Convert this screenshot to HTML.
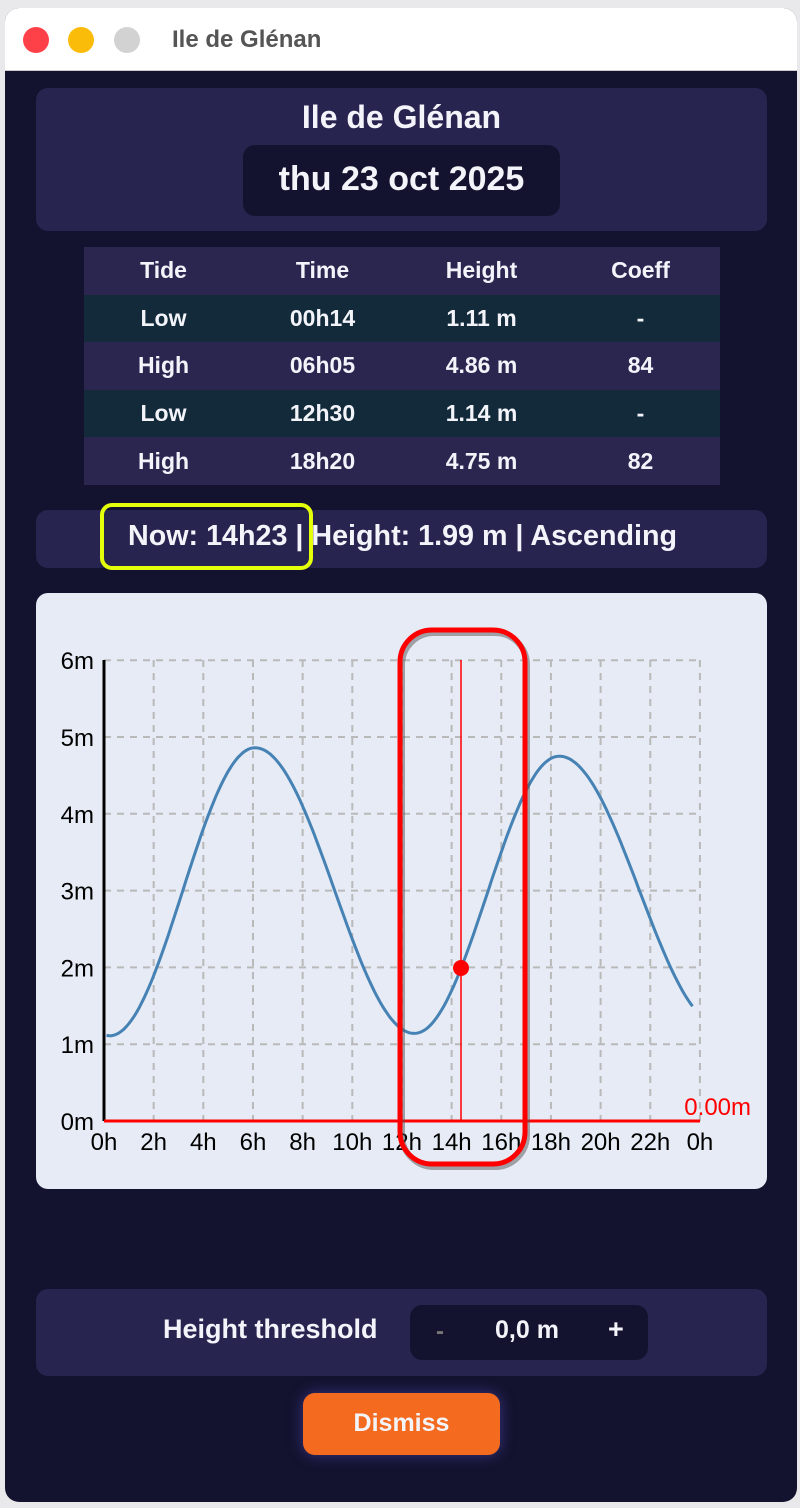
<!DOCTYPE html>
<html><head><meta charset="utf-8"><style>
*{margin:0;padding:0;box-sizing:border-box}
body{width:800px;height:1508px;background:#e9e9ec;position:relative;overflow:hidden;font-family:"Liberation Sans Narrow","Liberation Sans",sans-serif;font-weight:bold;color:#f3f4fa}
.win{position:absolute;left:5px;top:8px;width:792px;height:1494px;background:#13132f;border-radius:14px;overflow:hidden}
.tb{position:absolute;left:0;top:0;width:100%;height:63px;background:#fff;border-bottom:1px solid #ccc}
.dot{position:absolute;top:19px;width:26px;height:26px;border-radius:50%}
.tt{position:absolute;left:167px;top:18px;font-size:24px;color:#555}
.card{position:absolute;background:#282450;border-radius:12px}
.abs{position:absolute}
.c{text-align:center}
table{border-collapse:collapse;width:636px;font-size:23px}
td{height:47.6px;text-align:center;width:25%}
.h td{background:#2a2650}.l td{background:#132a3a}
svg text{font-weight:normal}
</style></head><body>
<div class="win">
<div class="tb"><div class="dot" style="left:18px;background:#fe4048"></div><div class="dot" style="left:63px;background:#fbbc09"></div><div class="dot" style="left:109px;background:#d2d2d2"></div><div class="tt">Ile de Glénan</div></div>
<div class="card" style="left:31px;top:80px;width:731px;height:143px"></div>
<div class="abs c" style="left:31px;top:91px;width:731px;font-size:32px">Ile de Glénan</div>
<div class="abs c" style="left:238px;top:137px;width:317px;height:71px;background:#14132f;border-radius:12px;font-size:34px;line-height:68px">thu 23 oct 2025</div>
<div class="abs" style="left:79px;top:239px"><table>
<tr class="h"><td>Tide</td><td>Time</td><td>Height</td><td>Coeff</td></tr>
<tr class="l"><td>Low</td><td>00h14</td><td>1.11 m</td><td>-</td></tr>
<tr class="h"><td>High</td><td>06h05</td><td>4.86 m</td><td>84</td></tr>
<tr class="l"><td>Low</td><td>12h30</td><td>1.14 m</td><td>-</td></tr>
<tr class="h"><td>High</td><td>18h20</td><td>4.75 m</td><td>82</td></tr></table></div>
<div class="card" style="left:31px;top:502px;width:731px;height:58px"></div>
<div class="abs" style="left:123px;top:512px;font-size:28.7px;white-space:nowrap">Now: 14h23 | Height: 1.99 m | Ascending</div>
<div class="abs" style="left:95px;top:495px;width:213px;height:67px;border:4px solid #e4ff0a;border-radius:12px"></div>
<div class="abs" style="left:31px;top:585px;width:731px;height:596px;background:#e6ebf5;border-radius:12px"></div>
<div class="card" style="left:31px;top:1281px;width:731px;height:87px"></div>
<div class="abs" style="left:158px;top:1306px;font-size:27px">Height threshold</div>
<div class="abs" style="left:405px;top:1297px;width:238px;height:55px;background:#14132f;border-radius:12px"></div>
<div class="abs" style="left:431px;top:1310px;font-size:24px;color:#777">-</div>
<div class="abs" style="left:490px;top:1308px;font-size:25px">0,0 m</div>
<div class="abs" style="left:603px;top:1306px;font-size:27px">+</div>
<div class="abs c" style="left:298px;top:1385px;width:197px;height:62px;background:#f46a1f;border-radius:12px;font-size:25px;line-height:60px;box-shadow:0 0 14px #3a3480">Dismiss</div>
</div>
<svg class="abs" style="left:0;top:0" width="800" height="1508" font-family="Liberation Sans,sans-serif" font-size="24">
<g stroke="#b9b9b9" stroke-width="2" stroke-dasharray="7,6" id="grid"></g>
<line x1="104" y1="660" x2="104" y2="1121" stroke="#000" stroke-width="3"/>
<g id="lbl" fill="#000"></g>
<path id="curve" fill="none" stroke="#4682b4" stroke-width="3"/>
<line x1="104" y1="1121" x2="700" y2="1121" stroke="red" stroke-width="3"/>
<text x="751" y="1115" fill="red" text-anchor="end" font-size="24">0.00m</text>
<line x1="461" y1="660" x2="461" y2="1121" stroke="red" stroke-width="1.5"/>
<circle cx="461" cy="968" r="8" fill="red"/>
<rect x="400" y="630" width="125" height="534" rx="32" fill="none" stroke="#555" stroke-opacity=".5" stroke-width="6" transform="translate(2,3)"/>
<rect x="400" y="630" width="125" height="534" rx="32" fill="none" stroke="red" stroke-width="5"/>
</svg>
<script>
var X=h=>104+h*24.83,Y=m=>1121-m*76.8,g=document.getElementById('grid'),l=document.getElementById('lbl'),s='';
for(var h=2;h<=24;h+=2)s+=`<line x1="${X(h)}" y1="660" x2="${X(h)}" y2="1121"/>`;
for(var m=1;m<=6;m++)s+=`<line x1="104" y1="${Y(m)}" x2="700" y2="${Y(m)}"/>`;
g.innerHTML=s;s='';
for(var h=0;h<=24;h+=2)s+=`<text x="${X(h)}" y="1150" text-anchor="middle">${h%24}h</text>`;
for(var m=0;m<=6;m++)s+=`<text x="94" y="${Y(m)+9}" text-anchor="end">${m}m</text>`;
l.innerHTML=s;
var E=[[-6,4.8],[0.233,1.11],[6.083,4.86],[12.5,1.14],[18.333,4.75],[24.8,1.25]],d='';
for(var t=0.1;t<=23.8;t+=0.1){for(var i=0;E[i+1][0]<t;i++);var a=E[i],b=E[i+1],p=(t-a[0])/(b[0]-a[0]),v=a[1]+(b[1]-a[1])*(1-Math.cos(Math.PI*p))/2;d+=(d?'L':'M')+X(t).toFixed(1)+' '+Y(v).toFixed(1);}
document.getElementById('curve').setAttribute('d',d);
</script>
</body></html>
